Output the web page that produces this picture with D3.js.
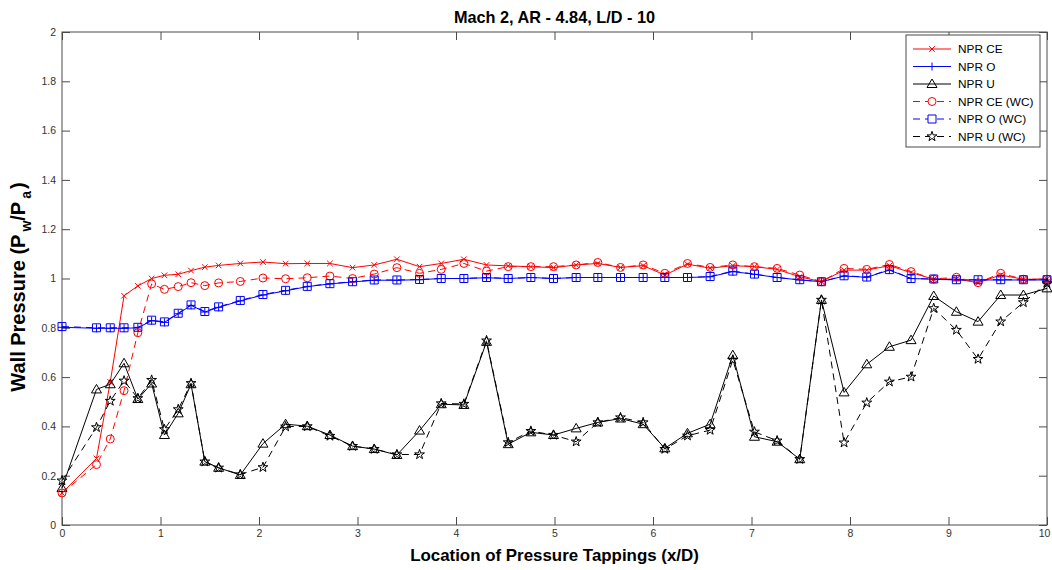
<!DOCTYPE html>
<html>
<head>
<meta charset="utf-8">
<script src="https://cdn.jsdelivr.net/npm/d3@7"></script>
<style>
  html, body { margin: 0; padding: 0; background: #fff; }
  svg { display: block; font-family: "Liberation Sans", Arial, sans-serif; }
</style>
</head>
<body>
<svg id="chart" width="1052" height="570"></svg>
<script>
// Tapping locations along the nozzle wall (x/D)
const tapX = [0, 0.35, 0.49, 0.63, 0.77, 0.91, 1.04, 1.18, 1.31, 1.45, 1.59,
  1.81, 2.04, 2.27, 2.49, 2.72, 2.95, 3.17, 3.40, 3.63, 3.85,
  4.08, 4.31, 4.53, 4.76, 4.99, 5.22, 5.44, 5.67, 5.90, 6.12,
  6.35, 6.58, 6.81, 7.03, 7.26, 7.49, 7.71, 7.94, 8.17, 8.40,
  8.62, 8.85, 9.08, 9.30, 9.53, 9.76, 10.0];

// Wall pressure ratio Pw/Pa for each NPR case
const nprCE = [0.13, 0.27, 0.58, 0.93, 0.97, 1.00, 1.013, 1.017, 1.032, 1.046, 1.053,
  1.061, 1.067, 1.060, 1.061, 1.061, 1.044, 1.055, 1.078, 1.048, 1.061,
  1.078, 1.055, 1.051, 1.048, 1.044, 1.055, 1.061, 1.045, 1.052, 1.014,
  1.058, 1.042, 1.052, 1.048, 1.037, 1.007, 0.987, 1.034, 1.034, 1.052,
  1.024, 0.997, 0.998, 0.983, 1.014, 0.997, 0.997];
const nprO = [0.802, 0.798, 0.798, 0.798, 0.800, 0.829, 0.822, 0.857, 0.891, 0.864, 0.883,
  0.909, 0.933, 0.950, 0.967, 0.978, 0.986, 0.993, 0.993, 0.995, 1.000,
  1.000, 1.003, 1.000, 1.004, 1.000, 1.004, 1.004, 1.004, 1.004, 1.004,
  1.004, 1.007, 1.028, 1.017, 1.004, 0.994, 0.987, 1.010, 1.005, 1.034,
  1.000, 0.997, 0.994, 0.994, 0.994, 0.994, 0.994];
const nprU = [0.15, 0.55, 0.571, 0.656, 0.511, 0.574, 0.365, 0.453, 0.571, 0.257, 0.232,
  0.203, 0.330, 0.409, 0.401, 0.365, 0.320, 0.308, 0.284, 0.383, 0.490,
  0.487, 0.743, 0.328, 0.376, 0.365, 0.392, 0.416, 0.432, 0.409, 0.311,
  0.372, 0.409, 0.689, 0.358, 0.338, 0.267, 0.913, 0.538, 0.652, 0.723,
  0.750, 0.929, 0.865, 0.825, 0.933, 0.933, 0.960];
const nprCEwc = [0.13, 0.245, 0.349, 0.545, 0.78, 0.978, 0.956, 0.967, 0.983, 0.971, 0.982,
  0.988, 1.002, 0.999, 1.003, 1.010, 1.000, 1.018, 1.044, 1.021, 1.037,
  1.061, 1.030, 1.048, 1.048, 1.048, 1.055, 1.065, 1.045, 1.055, 1.021,
  1.061, 1.045, 1.055, 1.048, 1.041, 1.014, 0.987, 1.041, 1.037, 1.057,
  1.028, 0.998, 1.005, 0.983, 1.021, 0.997, 0.997];
const nprOwc = [0.805, 0.800, 0.800, 0.800, 0.802, 0.831, 0.824, 0.859, 0.893, 0.866, 0.885,
  0.911, 0.935, 0.952, 0.968, 0.979, 0.987, 0.994, 0.994, 0.996, 1.000,
  1.000, 1.004, 1.000, 1.004, 1.000, 1.004, 1.004, 1.004, 1.004, 1.004,
  1.004, 1.008, 1.030, 1.018, 1.004, 0.995, 0.987, 1.011, 1.006, 1.036,
  1.000, 0.998, 0.995, 0.995, 0.995, 0.995, 0.995];
const nprUwc = [0.18, 0.396, 0.503, 0.585, 0.514, 0.588, 0.388, 0.469, 0.575, 0.257, 0.232,
  0.205, 0.234, 0.399, 0.400, 0.361, 0.320, 0.308, 0.286, 0.286, 0.493,
  0.491, 0.748, 0.335, 0.381, 0.365, 0.338, 0.416, 0.436, 0.416, 0.308,
  0.362, 0.385, 0.670, 0.378, 0.342, 0.267, 0.913, 0.334, 0.496, 0.581,
  0.601, 0.879, 0.791, 0.673, 0.825, 0.903, 0.980];

const seriesNames = ["NPR CE", "NPR O", "NPR U", "NPR CE (WC)", "NPR O (WC)", "NPR U (WC)"];
const xTicks = [0, 1, 2, 3, 4, 5, 6, 7, 8, 9, 10];
const yTicks = [0, 0.2, 0.4, 0.6, 0.8, 1, 1.2, 1.4, 1.6, 1.8, 2];

const titleText = "Mach 2, AR - 4.84, L/D - 10";
const xLabelText = "Location of Pressure Tappings (x/D)";

const series = [
  { name: seriesNames[0], values: nprCE,   color: "#ff0000", dash: null,  marker: "x" },
  { name: seriesNames[1], values: nprO,    color: "#0000ff", dash: null,  marker: "plus" },
  { name: seriesNames[2], values: nprU,    color: "#000000", dash: null,  marker: "tri" },
  { name: seriesNames[3], values: nprCEwc, color: "#ff0000", dash: "7,5", marker: "circle" },
  { name: seriesNames[4], values: nprOwc,  color: "#0000ff", dash: "7,5", marker: "square" },
  { name: seriesNames[5], values: nprUwc,  color: "#000000", dash: "7,5", marker: "star" }
];

const svg = d3.select("#chart");
const m = { left: 62, right: 1047, top: 32, bottom: 525 };

const x = d3.scaleLinear().domain([0, 10]).range([m.left, m.right]);
const y = d3.scaleLinear().domain([0, 2]).range([m.bottom, m.top]);

const axisColor = "#4a4a4a";

// Axes: ticks inward on all four sides (boxed plot)
const tickLen = 8;
svg.append("g").attr("transform", `translate(0,${m.bottom})`)
  .call(d3.axisBottom(x).tickValues(xTicks).tickSize(-tickLen).tickPadding(5).tickFormat(d3.format("d")))
  .call(g => g.select(".domain").remove())
  .call(g => g.selectAll(".tick text").filter(d => d === 10).attr("dx", -3));
svg.append("g").attr("transform", `translate(0,${m.top})`)
  .call(d3.axisTop(x).tickValues(xTicks).tickSize(-tickLen).tickFormat(""))
  .call(g => g.select(".domain").remove());
svg.append("g").attr("transform", `translate(${m.left},0)`)
  .call(d3.axisLeft(y).tickValues(yTicks).tickSize(-tickLen).tickPadding(6).tickFormat(d => String(+d.toFixed(1))))
  .call(g => g.select(".domain").remove());
svg.append("g").attr("transform", `translate(${m.right},0)`)
  .call(d3.axisRight(y).tickValues(yTicks).tickSize(-tickLen).tickFormat(""))
  .call(g => g.select(".domain").remove());

svg.selectAll(".tick line").attr("stroke", axisColor).attr("stroke-width", 1);
svg.selectAll(".tick text").attr("fill", "#333").style("font-size", "10.5px")
  .style("font-family", "'Liberation Sans', Arial, sans-serif");

svg.append("rect")
  .attr("x", m.left).attr("y", m.top)
  .attr("width", m.right - m.left).attr("height", m.bottom - m.top)
  .attr("fill", "none").attr("stroke", axisColor).attr("stroke-width", 1);

// Marker shapes
function markerPath(type) {
  switch (type) {
    case "x": return "M-2.8,-2.8L2.8,2.8M-2.8,2.8L2.8,-2.8";
    case "plus": return "M-4,0L4,0M0,-4L0,4";
    case "tri": return "M0,-5L5,3.5L-5,3.5Z";
    case "circle": return "M4,0A4,4 0 1,1 -4,0A4,4 0 1,1 4,0Z";
    case "square": return "M-4,-4L4,-4L4,4L-4,4Z";
    case "star": return d3.symbol(d3.symbolStar, 30)();
  }
}

const line = d3.line().x((d, i) => x(tapX[i])).y(d => y(d));

const plot = svg.append("g");
series.forEach(s => {
  const g = plot.append("g");
  g.append("path").datum(s.values)
    .attr("d", line)
    .attr("fill", "none")
    .attr("stroke", s.color)
    .attr("stroke-width", 1)
    .attr("stroke-dasharray", s.dash);
  g.selectAll("path.mk").data(s.values).join("path")
    .attr("class", "mk")
    .attr("transform", (d, i) => `translate(${x(tapX[i])},${y(d)})`)
    .attr("d", markerPath(s.marker))
    .attr("fill", "none")
    .attr("stroke", s.color)
    .attr("stroke-width", 1);
});

// Legend
const lg = svg.append("g");
lg.append("rect").attr("x", 906).attr("y", 35).attr("width", 134).attr("height", 112)
  .attr("fill", "#fff").attr("stroke", axisColor).attr("stroke-width", 1);
series.forEach((s, i) => {
  const ly = 49 + i * 17.5;
  lg.append("line").attr("x1", 913).attr("x2", 951).attr("y1", ly).attr("y2", ly)
    .attr("stroke", s.color).attr("stroke-width", 1).attr("stroke-dasharray", s.dash);
  lg.append("path").attr("transform", `translate(932,${ly})`).attr("d", markerPath(s.marker))
    .attr("fill", s.dash ? "#fff" : "none").attr("stroke", s.color).attr("stroke-width", 1);
  lg.append("text").attr("x", 958).attr("y", ly + 4).text(s.name)
    .attr("fill", "#000").style("font-size", "11.8px");
});

// Titles
svg.append("text").attr("x", (m.left + m.right) / 2).attr("y", 22.5)
  .attr("text-anchor", "middle").style("font-size", "16.3px").style("font-weight", "bold")
  .text(titleText);
svg.append("text").attr("x", (m.left + m.right) / 2).attr("y", 561)
  .attr("text-anchor", "middle").style("font-size", "16.9px").style("font-weight", "bold")
  .text(xLabelText);

const yl = svg.append("text")
  .attr("transform", `translate(25,287) rotate(-90)`)
  .attr("text-anchor", "middle").style("font-size", "20px").style("font-weight", "bold");
yl.append("tspan").text("Wall Pressure (P");
yl.append("tspan").text("w").attr("dx", 3).attr("dy", 6).style("font-size", "14px");
yl.append("tspan").text("/P").attr("dy", -6);
yl.append("tspan").text("a").attr("dx", 3).attr("dy", 6).style("font-size", "14px");
yl.append("tspan").text(")").attr("dx", 2).attr("dy", -6);
</script>
</body>
</html>
